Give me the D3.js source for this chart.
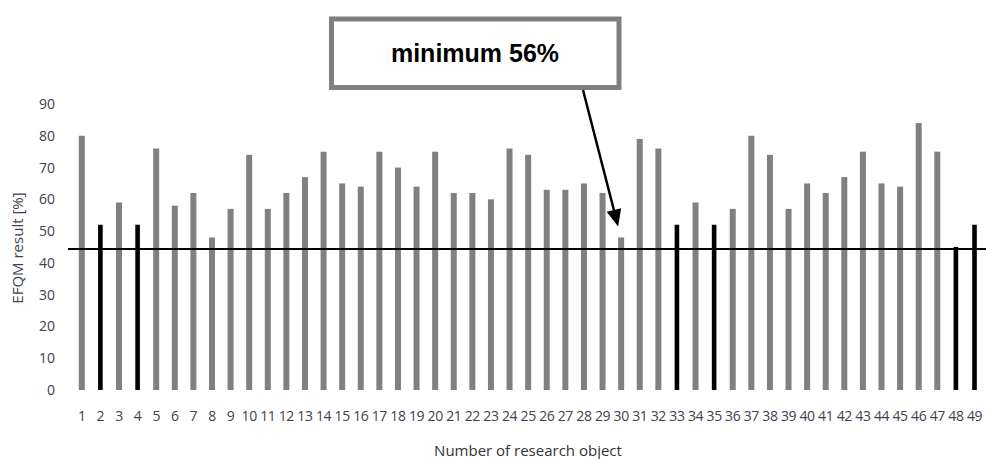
<!DOCTYPE html>
<html>
<head>
<meta charset="utf-8">
<script src="https://cdn.jsdelivr.net/npm/d3@7"></script>
<style>
  body { margin: 0; background: #fff; }
  svg { display: block; }
</style>
</head>
<body>
<div id="chart"></div>
<script>
// EFQM results per research object
const objects = d3.range(1, 50)
const scores = [80, 52, 59, 52, 76, 58, 62, 48, 57, 74,
                57, 62, 67, 75, 65, 64, 75, 70, 64, 75,
                62, 62, 60, 76, 74, 63, 63, 65, 62, 48,
                79, 76, 52, 59, 52, 57, 80, 74, 57, 65,
                62, 67, 75, 65, 64, 84, 75, 45, 52]
const highlighted = [2, 4, 33, 35, 48, 49]
const yTicks = [0, 10, 20, 30, 40, 50, 60, 70, 80, 90]
const thresholdValue = 44.4
const calloutText = 'minimum 56%'
const calloutTarget = 30

const width = 986
const height = 459

const svg = d3.select('#chart').append('svg')
  .attr('width', width)
  .attr('height', height)

const x = d3.scaleBand()
  .domain(objects)
  .range([72.5, 983.8])
  .padding(0)

const y = d3.scaleLinear()
  .domain([0, 90])
  .range([390, 104])

const data = objects.map((o, i) => ({ obj: o, score: scores[i], dark: highlighted.includes(o) }))

// bars
svg.selectAll('rect.bar')
  .data(data)
  .enter()
  .append('rect')
  .attr('class', 'bar')
  .attr('x', d => x(d.obj) + x.bandwidth() / 2 - (d.dark ? 2.3 : 3))
  .attr('y', d => y(d.score))
  .attr('width', d => d.dark ? 4.6 : 6)
  .attr('height', d => y(0) - y(d.score))
  .attr('fill', d => d.dark ? '#000' : '#808080')

// y axis
const yAxis = svg.append('g')
  .attr('transform', 'translate(68,0)')
  .call(d3.axisLeft(y).tickValues(yTicks).tickSize(0).tickPadding(13))
yAxis.select('.domain').remove()
yAxis.selectAll('text')
  .attr('font-family', 'Open Sans')
  .attr('font-size', 14)
  .attr('fill', '#414150')

// x axis
const xAxis = svg.append('g')
  .attr('transform', `translate(0,${y(0)})`)
  .call(d3.axisBottom(x).tickSize(0).tickPadding(21))
xAxis.select('.domain').remove()
xAxis.selectAll('text')
  .attr('font-family', 'Open Sans')
  .attr('font-size', 14)
  .attr('letter-spacing', -0.4)
  .attr('fill', '#414150')

// threshold line
svg.append('line')
  .attr('x1', 68)
  .attr('x2', width)
  .attr('y1', y(thresholdValue))
  .attr('y2', y(thresholdValue))
  .attr('stroke', '#000')
  .attr('stroke-width', 2)

// axis titles
svg.append('text')
  .attr('x', 528)
  .attr('y', 456)
  .attr('text-anchor', 'middle')
  .attr('font-family', 'Open Sans')
  .attr('font-size', 15)
  .attr('fill', '#333')
  .text('Number of research object')

svg.append('text')
  .attr('transform', 'translate(23,248) rotate(-90)')
  .attr('text-anchor', 'middle')
  .attr('font-family', 'Open Sans')
  .attr('font-size', 15)
  .attr('fill', '#414150')
  .text('EFQM result [%]')

// callout box
svg.append('rect')
  .attr('x', 331.5)
  .attr('y', 19)
  .attr('width', 287.5)
  .attr('height', 68.5)
  .attr('fill', '#fff')
  .attr('stroke', '#808080')
  .attr('stroke-width', 5)

svg.append('text')
  .attr('x', 475)
  .attr('y', 62)
  .attr('text-anchor', 'middle')
  .attr('font-family', 'Liberation Sans, Arial, sans-serif')
  .attr('font-weight', 'bold')
  .attr('font-size', 25)
  .attr('fill', '#000')
  .text(calloutText)

// arrow to the target bar
const target = data.find(d => d.obj === calloutTarget)
const x0 = 583, y0 = 90
const x1 = x(target.obj) + x.bandwidth() / 2 - 3
const y1 = y(target.score) - 11
const ang = Math.atan2(y1 - y0, x1 - x0)
const headLen = 17, headHalf = 7.5
const bx = x1 - headLen * Math.cos(ang), by = y1 - headLen * Math.sin(ang)

svg.append('line')
  .attr('x1', x0).attr('y1', y0)
  .attr('x2', bx).attr('y2', by)
  .attr('stroke', '#000')
  .attr('stroke-width', 2.5)

svg.append('path')
  .attr('d', `M${x1},${y1} L${bx - headHalf * Math.sin(ang)},${by + headHalf * Math.cos(ang)} L${bx + headHalf * Math.sin(ang)},${by - headHalf * Math.cos(ang)} Z`)
  .attr('fill', '#000')
</script>
</body>
</html>
